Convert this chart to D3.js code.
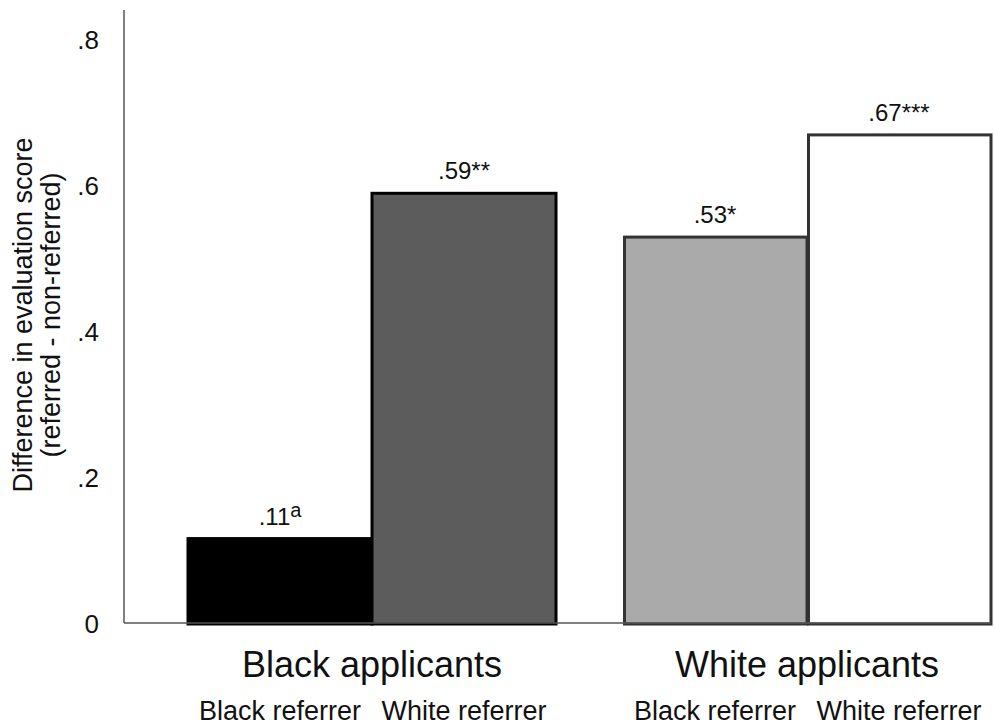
<!DOCTYPE html>
<html>
<head>
<meta charset="utf-8">
<script src="https://cdn.jsdelivr.net/npm/d3@7"></script>
<style>
  body { margin: 0; background: #fff; }
  svg { display: block; font-family: 'Liberation Sans', Arial, sans-serif; }
</style>
</head>
<body>
<svg width="995" height="725"></svg>
<script>
const groups = ['Black applicants', 'White applicants'];
const referrers = ['Black referrer', 'White referrer'];
// bar heights per group, in referrer order
const blackApplicants = [0.117, 0.59];
const whiteApplicants = [0.53, 0.67];
const valueLabels = [['.11', '.59**'], ['.53*', '.67***']];
const superscripts = [['a', ''], ['', '']];
const tickValues = [0, 0.2, 0.4, 0.6, 0.8];
const tickLabels = ['0', '.2', '.4', '.6', '.8'];

const fills = [['#000000', '#5c5c5c'], ['#aaaaaa', '#ffffff']];
const strokes = [['#000000', '#000000'], ['#333333', '#333333']];

const svg = d3.select('svg');
const axisX = 124;

const y = d3.scaleLinear().domain([0, 0.8]).range([624, 40]);
const x0 = d3.scaleBand().domain(groups).range([188, 991]).paddingInner(0.154);
const x1 = d3.scaleBand().domain(referrers).range([0, x0.bandwidth()]);

const series = [blackApplicants, whiteApplicants];
const rows = [];
groups.forEach((g, gi) => {
  referrers.forEach((r, ri) => {
    rows.push({ group: g, referrer: r, value: series[gi][ri], gi, ri });
  });
});

// bars
svg.append('g').selectAll('rect')
  .data(rows)
  .join('rect')
  .attr('x', d => x0(d.group) + x1(d.referrer) + (d.gi === 1 ? 1.5 : 0))
  .attr('y', d => y(d.value))
  .attr('width', d => x1.bandwidth() - (d.gi === 1 ? 1.5 : 0))
  .attr('height', d => y(0) - y(d.value))
  .attr('fill', d => fills[d.gi][d.ri])
  .attr('stroke', d => strokes[d.gi][d.ri])
  .attr('stroke-width', 3);

// value labels
const vl = svg.append('g').selectAll('text')
  .data(rows)
  .join('text')
  .attr('x', d => x0(d.group) + x1(d.referrer) + x1.bandwidth() / 2)
  .attr('y', d => y(d.value) - 14)
  .attr('text-anchor', 'middle')
  .attr('font-size', 24)
  .attr('fill', '#111');
vl.append('tspan').text(d => valueLabels[d.gi][d.ri]);
vl.append('tspan')
  .attr('dy', -8)
  .attr('font-size', 20)
  .text(d => superscripts[d.gi][d.ri]);

// axis lines
svg.append('line')
  .attr('x1', axisX).attr('x2', axisX)
  .attr('y1', 10).attr('y2', y(0) - 1)
  .attr('stroke', '#555').attr('stroke-width', 1.5);
svg.append('line')
  .attr('x1', axisX).attr('x2', 991)
  .attr('y1', y(0) - 1).attr('y2', y(0) - 1)
  .attr('stroke', '#555').attr('stroke-width', 1.5);

// tick labels
svg.append('g').selectAll('text')
  .data(tickValues)
  .join('text')
  .attr('x', 99)
  .attr('y', d => y(d))
  .attr('dy', '0.36em')
  .attr('text-anchor', 'end')
  .attr('font-size', 26)
  .attr('fill', '#111')
  .text((d, i) => tickLabels[i]);

// y axis title
const title = svg.append('text')
  .attr('transform', 'translate(0,315) rotate(-90)')
  .attr('text-anchor', 'middle')
  .attr('font-size', 27)
  .attr('fill', '#111');
title.append('tspan').attr('x', 0).attr('y', 32).text('Difference in evaluation score');
title.append('tspan').attr('x', 0).attr('y', 60).text('(referred - non-referred)');

// group labels
svg.append('g').selectAll('text')
  .data(groups)
  .join('text')
  .attr('x', d => x0(d) + x0.bandwidth() / 2)
  .attr('y', 677)
  .attr('text-anchor', 'middle')
  .attr('font-size', 36)
  .attr('fill', '#111')
  .text(d => d);

// referrer labels
svg.append('g').selectAll('text')
  .data(rows)
  .join('text')
  .attr('x', d => x0(d.group) + x1(d.referrer) + x1.bandwidth() / 2)
  .attr('y', 720)
  .attr('text-anchor', 'middle')
  .attr('font-size', 27)
  .attr('fill', '#111')
  .text(d => d.referrer);
</script>
</body>
</html>
